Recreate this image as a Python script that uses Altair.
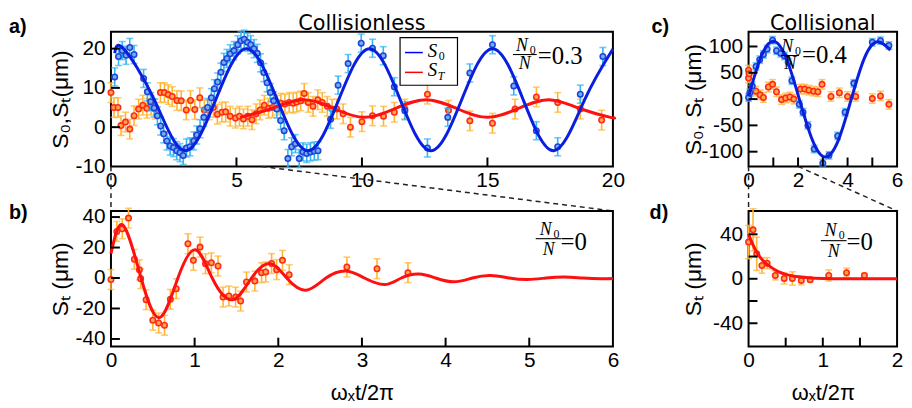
import altair as alt
import pandas as pd

FONT = "Liberation Sans"
TFONT = "DejaVu Sans"
SERIF = "Liberation Serif"
LBL = 21
TTL = 22
YTTL = 23

BLUE_FIT = "#0a1ee0"
RED_FIT = "#ff1010"
BLUE_STROKE = "#1f45d8"
BLUE_FILL = "#74aef2"
BLUE_ERR = "#30b4f2"
RED_STROKE = "#ff2a1a"
RED_FILL = "#ffab45"
ORANGE_ERR = "#ffb533"

# ---------------- panel a (collisionless, N0/N = 0.3) ----------------
a_blue_x = [0.15, 0.3, 0.45, 0.6, 0.75, 0.92, 1.3, 1.45, 1.58, 1.72, 1.85, 1.98, 2.1, 2.23, 2.36,
            2.49, 2.62, 2.75, 2.88, 3.01, 3.15, 3.3, 3.42, 3.55, 3.7, 3.85, 4.0, 4.12, 4.25, 4.38,
            4.5, 4.62, 4.75, 4.9, 5.05, 5.18, 5.31, 5.44, 5.57, 5.7, 5.83, 5.96, 6.09, 6.22, 6.35,
            6.48, 6.61, 6.76, 6.9, 7.05, 7.2, 7.35, 7.5, 7.65, 7.8, 7.95, 8.1, 8.25, 8.75, 9.05,
            9.45, 9.97, 10.42, 10.85, 11.29, 11.71, 12.61, 13.42, 14.3, 15.2, 16.05, 16.95, 17.8, 18.7, 19.6]
a_blue_y = [12.8, 18.0, 19.5, 18.3, 20.3, 18.5, 12.4, 9.0, 6.5, 4.9, 2.9, 0.3, -1.7, -3.5, -4.8,
            -5.2, -6.0, -6.5, -7.2, -5.3, -5.0, -3.5, -2.0, -0.4, 2.5, 5.0, 7.5, 9.8, 11.5, 14.0,
            16.5, 17.5, 18.7, 19.5, 21.0, 22.0, 22.4, 21.6, 21.0, 20.0, 18.8, 16.4, 13.9, 11.3, 8.8,
            6.7, 4.6, 1.7, -0.9, -8.0, -5.0, -4.2, -8.0, -6.3, -6.7, -6.3, -6.1, -6.0, 2.0, 10.7,
            16.2, 21.4, 20.1, 18.2, 10.3, 4.2, -5.3, 2.5, 13.8, 21.0, 10.5, -0.9, -5.0, 8.4, 18.0]
a_blue_err = 2.3
a_red_x = [0.0, 0.12, 0.28, 0.4, 0.58, 0.75, 0.92, 1.1, 1.27, 1.43, 1.6, 1.76, 1.97, 2.13, 2.28,
           2.44, 2.63, 2.8, 3.0, 3.17, 3.34, 3.54, 3.72, 3.92, 4.08, 4.24, 4.42, 4.57, 4.75, 4.96,
           5.12, 5.28, 5.45, 5.62, 5.78, 5.94, 6.11, 6.28, 6.44, 6.6, 6.77, 6.93, 7.1, 7.26, 7.4,
           7.56, 7.7, 7.86, 8.05, 8.24, 8.42, 8.62, 8.81, 9.0, 9.25, 9.54, 10.0, 10.42, 10.86, 11.29,
           11.71, 12.61, 13.45, 14.3, 15.2, 16.1, 16.95, 17.8, 18.7, 19.55]
a_red_y = [8.8, 5.0, 5.0, 0.4, 1.3, -0.5, 2.9, 4.6, 5.6, 4.8, 5.6, 4.6, 8.8, 8.8, 8.3,
           7.8, 6.8, 6.7, 4.4, 6.8, 4.5, 7.5, 4.4, 4.4, 5.0, 3.3, 3.8, 3.9, 2.8, 2.3,
           2.8, 2.1, 2.8, 1.9, 3.4, 4.4, 5.6, 4.8, 5.0, 5.6, 6.1, 5.9, 6.3, 6.1, 6.4,
           6.7, 8.6, 6.3, 5.3, 7.0, 6.3, 5.3, 4.6, 4.6, 3.4, 0.0, 1.4, 2.9, 2.8, 3.8,
           4.6, 8.4, 4.3, 1.6, 1.0, 4.6, 7.7, 6.3, 4.6, 1.8]
a_red_err = 2.5
a_blue_fit_x = [0.15, 0.5, 1.725, 2.95, 4.175, 5.4, 6.625, 7.85, 9.075, 10.3, 11.525, 12.75,
                13.975, 15.2, 16.425, 17.65, 18.875, 20.0]
a_blue_fit_y = [18.8, 20.0, 7.0, -6.0, 7.0, 20.0, 7.0, -6.0, 7.0, 20.0, 7.0, -6.0,
                7.0, 20.0, 7.0, -6.0, 7.0, 19.9]
a_red_fit_x = [5.15, 6.4, 7.65, 8.875, 10.1, 11.325, 12.55, 13.775, 15.0, 16.225, 17.45, 18.675, 19.9, 20.0]
a_red_fit_y = [2.5, 4.75, 7.0, 4.75, 2.5, 4.75, 7.0, 4.75, 2.5, 4.75, 7.0, 4.75, 2.5, 2.5]
a_xdom, a_ydom = [0, 20], [-10, 24.3]
a_xlabels, a_xticks = [0, 5, 10, 15, 20], [5, 10, 15]
a_ylabels, a_yticks = [-10, 0, 10, 20], [0, 10, 20]
a_zoom = [0, 6]          # x window shown in panel b

# ---------------- panel b (collisionless, N0/N = 0) ----------------
b_x = [0.0, 0.07, 0.135, 0.21, 0.28, 0.34, 0.355, 0.42, 0.5, 0.57, 0.64, 0.71, 0.78, 0.92, 0.985,
       1.065, 1.13, 1.2, 1.28, 1.34, 1.41, 1.49, 1.55, 1.62, 1.72, 1.8, 1.85, 1.92, 1.98, 2.05,
       2.13, 2.82, 3.18, 3.55]
b_y = [-1.0, 30.6, 32.3, 39.3, 12.3, 5.4, -0.4, -14.2, -27.7, -29.5, -31.0, -14.0, -7.0, 22.5, 11.6,
       20.3, 9.4, 10.0, 7.9, -12.5, -11.8, -12.5, -15.1, -2.6, -2.0, 3.5, 4.0, 9.5, 5.5, 11.6,
       2.2, 7.2, 6.1, 3.5]
b_err = 6.5
b_fit_x = [0.0, 0.146, 0.36, 0.58, 0.8, 1.01, 1.21, 1.45, 1.68, 1.9, 2.1, 2.33, 2.57, 2.81, 3.03,
           3.27, 3.47, 3.68, 3.88, 4.1, 4.32, 4.54, 4.76, 4.98, 5.2, 5.42, 5.64, 5.86, 6.0]
b_fit_y = [16.0, 34.5, 0.0, -26.0, 0.0, 18.5, 0.0, -14.3, 0.0, 9.5, 0.0, -8.0, 0.0, 4.6, 0.0,
           -4.3, 0.0, 2.6, 0.0, -2.5, 0.0, 1.6, 0.0, -1.0, 0.0, 0.7, 0.0, -0.5, -0.3]
b_xdom, b_ydom = [0, 6], [-45, 44]
b_xlabels, b_xticks = [0, 1, 2, 3, 4, 5, 6], [1, 2, 3, 4, 5]
b_ylabels, b_yticks = [-40, -20, 0, 20, 40], [-40, -20, 0, 20, 40]

# ---------------- panel c (collisional, N0/N = 0.4) ----------------
c_blue_x = [0.0, 0.05, 0.15, 0.3, 0.45, 0.6, 0.75, 0.97, 1.13, 1.3, 1.45, 1.6, 1.75, 2.05, 2.2,
            2.4, 2.65, 3.0, 3.25, 3.6, 3.9, 4.25, 5.0, 5.33, 5.67]
c_blue_y = [3, 12, 25, 62, 75, 85, 95, 112, 92, 87, 82, 70, 35, -10, -25,
            -50, -95, -122, -107, -70, -25, 30, 108, 111, 102]
c_blue_err = 7
c_red_x = [0.0, 0.0, 0.03, 0.13, 0.3, 0.47, 0.6, 0.8, 0.97, 1.13, 1.33, 1.5, 1.67, 1.83, 2.1,
           2.27, 2.44, 2.63, 2.8, 2.97, 3.33, 3.67, 4.0, 4.33, 5.0, 5.33, 5.67]
c_red_y = [55, 40, 48, 17, 15, 8, 3, 23, 28, 14, -1, 2, 4, 0, 19,
           19, 17, 15, 14, 28, 5, 12, 5, 5, 1, 6, -10]
c_red_err = 9
c_fit_x = [0.0, 0.5, 1.0, 1.52, 2.05, 2.58, 3.1, 3.63, 4.15, 4.68, 5.2, 5.73]
c_fit_y = [5, 80, 110, 78, 0, -78, -110, -78, 0, 78, 109, 93]
c_xdom, c_ydom = [0, 6], [-128, 128]
c_xlabels, c_xticks = [0, 2, 4, 6], [1, 2, 3, 4, 5]
c_ylabels, c_yticks = [-100, -50, 0, 50, 100], [-100, -50, 0, 50, 100]
c_zoom = [0, 2]

# ---------------- panel d (collisional, N0/N = 0) ----------------
d_x = [0.0, 0.06, 0.11, 0.18, 0.25, 0.36, 0.48, 0.59, 0.71, 0.83, 1.08, 1.32, 1.56]
d_y = [33, 44, 22.5, 12, 14, 3, 0.3, 0.3, -1.5, -0.8, 3, 5.5, 3]
d_err = [15, 19, 15, 7, 5, 4, 5, 6, 4, 2, 5, 4, 2]
d_fit_x = [0.0, 0.05, 0.1, 0.15, 0.2, 0.3, 0.4, 0.5, 0.6, 0.8, 1.0, 1.3, 2.0]
d_fit_y = [40, 32, 25, 20, 16, 10.5, 6.5, 4, 2.5, 1, 0.3, 0, 0]
d_xdom, d_ydom = [0, 2], [-61, 61]
d_xlabels, d_xticks = [0, 1, 2], [0.5, 1, 1.5]
d_ylabels, d_yticks = [-40, 0, 40], [-40, -20, 0, 20, 40]

# ---------------- layout ----------------
W1, W2 = 507, 150
H1, H2 = 136, 137
ROWGAP, COLGAP = 45, 137
TICK = 9


def make_enc(xdom, ydom, xlab, ylab, xtitle, ytitle, xtpad, ytx, H):
    sx = alt.Scale(domain=xdom, nice=False, zero=False)
    sy = alt.Scale(domain=ydom, nice=False, zero=False)
    common = dict(ticks=False, domain=False, grid=False, labelFlush=False, labelOverlap=False,
                  labelFont=FONT, labelFontSize=LBL, labelColor="black",
                  labelExpr="datum.value + ''", titleFont=FONT,
                  titleFontWeight="normal", titleColor="black")
    ax = alt.Axis(values=xlab, labelPadding=3, title=xtitle, titlePadding=xtpad,
                  titleFontSize=TTL, **common)
    ay = alt.Axis(values=ylab, labelPadding=6, title=ytitle, titleX=ytx, titleY=H / 2,
                  titleAngle=270, titleAlign="center", titleBaseline="middle",
                  titleFontSize=YTTL, **common)

    def X(f):
        return alt.X(f"{f}:Q", scale=sx, axis=ax)

    def Y(f):
        return alt.Y(f"{f}:Q", scale=sy, axis=ay)
    return X, Y


def ticks_layers(X, Y, xt, yt, H):
    tx = alt.Chart(pd.DataFrame({"x": xt})).mark_rule(color="black", strokeWidth=2).encode(
        x=X("x"), y=alt.value(H), y2=alt.value(H - TICK))
    ty = alt.Chart(pd.DataFrame({"y": yt})).mark_rule(color="black", strokeWidth=2).encode(
        y=Y("y"), x=alt.value(0), x2=alt.value(TICK))
    return [tx, ty]


def series_layers(X, Y, xs, ys, errs, ecol, stroke, fill):
    df = pd.DataFrame({"x": xs, "y": ys, "e": errs})
    df["lo"] = df["y"] - df["e"]
    df["hi"] = df["y"] + df["e"]
    base = alt.Chart(df)
    bars = base.mark_rule(color=ecol, strokeWidth=1.6).encode(x=X("x"), y=Y("lo"), y2="hi:Q")
    clo = base.mark_tick(color=ecol, orient="horizontal", size=7, thickness=1.6).encode(x=X("x"), y=Y("lo"))
    chi = base.mark_tick(color=ecol, orient="horizontal", size=7, thickness=1.6).encode(x=X("x"), y=Y("hi"))
    pts = base.mark_point(shape="circle", filled=True, fill=fill, stroke=stroke, strokeWidth=1.6,
                          size=30, opacity=1, fillOpacity=1).encode(x=X("x"), y=Y("y"))
    return [bars, clo, chi, pts]


def fit_layer(X, Y, xs, ys, color, interp="natural"):
    return alt.Chart(pd.DataFrame({"x": xs, "y": ys})).mark_line(
        color=color, strokeWidth=3, interpolate=interp).encode(x=X("x"), y=Y("y"))


def txt(s, x, y, size, font=SERIF, style="normal", weight="normal", align="left", baseline="middle"):
    return alt.Chart(pd.DataFrame({"t": [s]})).mark_text(
        font=font, fontSize=size, fontStyle=style, fontWeight=weight, align=align,
        baseline=baseline, color="black").encode(x=alt.value(x), y=alt.value(y), text="t:N")


def hline(x0, x1, y, color="black", w=1.2):
    return alt.Chart(pd.DataFrame({"k": [0]})).mark_rule(color=color, strokeWidth=w).encode(
        x=alt.value(x0), x2=alt.value(x1), y=alt.value(y))


def zoom_lines(X, zoom, dom, H):
    df = pd.DataFrame({"x": zoom, "x2": dom})
    return alt.Chart(df).mark_rule(color="#222222", strokeWidth=1.5, strokeDash=[5, 4]).encode(
        x=X("x"), x2="x2:Q", y=alt.value(H), y2=alt.value(H + ROWGAP))


def fraction(cx, ny, ly, dy, lw, eqx, eqy, eqtext):
    return [
        txt("N", cx - 3, ny, 18, style="italic", align="center"),
        txt("0", cx + 5, ny + 4, 12, align="left"),
        hline(cx - lw / 2, cx + lw / 2, ly, w=1.1),
        txt("N", cx, dy, 18, style="italic", align="center"),
        txt(eqtext, eqx, eqy, 25),
    ]


# ---- panel a
Xa, Ya = make_enc(a_xdom, a_ydom, a_xlabels, a_ylabels, None, "S₀,Sₜ(μm)", 0, -51, H1)
layers_a = [zoom_lines(Xa, a_zoom, a_xdom, H1)]
layers_a += series_layers(Xa, Ya, a_red_x, a_red_y, a_red_err, ORANGE_ERR, RED_STROKE, RED_FILL)
layers_a += series_layers(Xa, Ya, a_blue_x, a_blue_y, a_blue_err, BLUE_ERR, BLUE_STROKE, BLUE_FILL)
layers_a += [fit_layer(Xa, Ya, a_red_fit_x, a_red_fit_y, RED_FIT),
             fit_layer(Xa, Ya, a_blue_fit_x, a_blue_fit_y, BLUE_FIT)]
layers_a += [
    alt.Chart(pd.DataFrame({"k": [0]})).mark_rect(fill="white", stroke="black", strokeWidth=1.2).encode(
        x=alt.value(292), x2=alt.value(350), y=alt.value(6), y2=alt.value(54)),
    hline(297, 315, 21, color="#0000ff", w=1.5),
    hline(297, 315, 41, color="#ff0000", w=1.5),
    txt("S", 320, 19, 19, style="italic"),
    txt("0", 331, 25, 12),
    txt("S", 320, 39, 19, style="italic"),
    txt("T", 330, 45, 12, style="italic"),
]
layers_a += fraction(418, 14, 23, 33, 24, 431, 25, "=0.3")
layers_a += ticks_layers(Xa, Ya, a_xticks, a_yticks, H1)
layers_a += [txt("a)", -103, 1, 20, font=FONT, weight="bold", baseline="alphabetic"),
             txt("c)", 546, 1, 20, font=FONT, weight="bold", baseline="alphabetic"),
             txt("Collisionless", W1 / 2, -2, 21, font=TFONT, align="center", baseline="alphabetic")]
pa = alt.layer(*layers_a).properties(width=W1, height=H1)

# ---- panel b
Xb, Yb = make_enc(b_xdom, b_ydom, b_xlabels, b_ylabels, "ωₓt/2π", "Sₜ (μm)", 12, -51, H2)
layers_b = series_layers(Xb, Yb, b_x, b_y, b_err, ORANGE_ERR, RED_STROKE, RED_FILL)
layers_b += [fit_layer(Xb, Yb, b_fit_x, b_fit_y, RED_FIT)]
layers_b += fraction(442, 19, 28, 39, 26, 454, 31, "=0")
layers_b += ticks_layers(Xb, Yb, b_xticks, b_yticks, H2)
layers_b += [txt("b)", -103, 8, 20, font=FONT, weight="bold", baseline="alphabetic"),
             txt("d)", 544, 8, 20, font=FONT, weight="bold", baseline="alphabetic")]
pb = alt.layer(*layers_b).properties(width=W1, height=H2)

# ---- panel c
Xc, Yc = make_enc(c_xdom, c_ydom, c_xlabels, c_ylabels, None, "S₀, Sₜ (μm)", 0, -56, H1)
layers_c = [zoom_lines(Xc, c_zoom, c_xdom, H1)]
layers_c += series_layers(Xc, Yc, c_red_x, c_red_y, c_red_err, ORANGE_ERR, RED_STROKE, RED_FILL)
layers_c += series_layers(Xc, Yc, c_blue_x, c_blue_y, c_blue_err, BLUE_ERR, BLUE_STROKE, BLUE_FILL)
layers_c += [fit_layer(Xc, Yc, c_fit_x, c_fit_y, BLUE_FIT)]
layers_c += fraction(42, 15, 24, 33, 18, 54, 24, "=0.4")
layers_c += ticks_layers(Xc, Yc, c_xticks, c_yticks, H1)
layers_c += [txt("Collisional", W2 / 2, -2, 21, font=TFONT, align="center", baseline="alphabetic")]
pc = alt.layer(*layers_c).properties(width=W2, height=H1)

# ---- panel d
Xd, Yd = make_enc(d_xdom, d_ydom, d_xlabels, d_ylabels, "ωₓt/2π", "Sₜ (μm)", 12, -56, H2)
layers_d = series_layers(Xd, Yd, d_x, d_y, d_err, ORANGE_ERR, RED_STROKE, RED_FILL)
layers_d += [fit_layer(Xd, Yd, d_fit_x, d_fit_y, RED_FIT, "monotone")]
layers_d += fraction(86, 20, 30, 41, 26, 99, 31, "=0")
layers_d += ticks_layers(Xd, Yd, d_xticks, d_yticks, H2)
pdd = alt.layer(*layers_d).properties(width=W2, height=H2)

chart = alt.concat(
    pa, pc, pb, pdd, columns=2,
    spacing=alt.RowColnumber(row=ROWGAP, column=COLGAP),
    bounds="flush",
).properties(
    padding={"left": 0, "top": 2, "right": 0, "bottom": 0},
    background="white",
).configure_view(stroke="black", strokeWidth=2)

chart.save("out.html", embed_options={"renderer": "svg", "actions": False})
